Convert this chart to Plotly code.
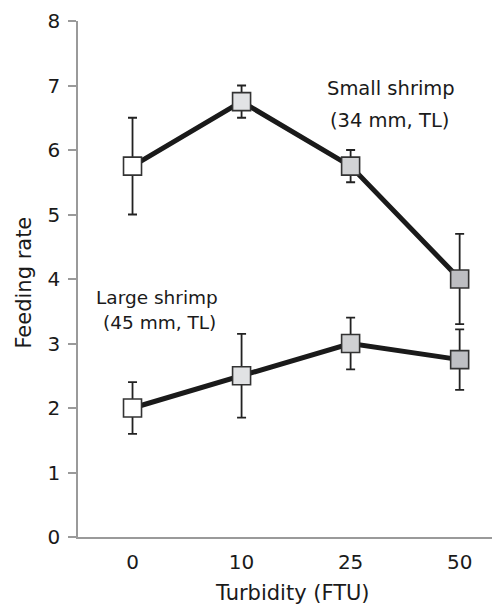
import plotly.graph_objects as go

turbidity = ["0", "10", "25", "50"]
small_mean = [5.75, 6.75, 5.75, 4.0]
small_err = [0.75, 0.25, 0.25, 0.70]
large_mean = [2.0, 2.5, 3.0, 2.75]
large_err = [0.40, 0.65, 0.40, 0.47]
small_fill = ["#ffffff", "#e2e3e5", "#d2d3d5", "#bdbec2"]
large_fill = ["#ffffff", "#e1e2e4", "#cfd0d2", "#bfc0c4"]
y_ticks = [0, 1, 2, 3, 4, 5, 6, 7, 8]

FONT = "DejaVu Sans"

fig = go.Figure()
for mean, err, fill in [(small_mean, small_err, small_fill), (large_mean, large_err, large_fill)]:
    fig.add_trace(go.Scatter(
        x=turbidity, y=mean, mode="lines+markers",
        line=dict(color="#1a1a1a", width=5),
        marker=dict(symbol="square", size=18, color=fill,
                    line=dict(color="#333333", width=1.6)),
        error_y=dict(type="data", array=err, symmetric=True,
                     color="#222222", thickness=1.8, width=4.5),
        cliponaxis=False, showlegend=False,
    ))

annos = [
    ("Small shrimp", 2.37, 6.95, 19.5),
    ("(34 mm, TL)", 2.36, 6.46, 19.5),
    ("Large shrimp", 0.22, 3.72, 18.5),
    ("(45 mm, TL)", 0.25, 3.33, 18.5),
]
for text, ax, ay, fs in annos:
    fig.add_annotation(x=ax, y=ay, xref="x", yref="y", text=text, showarrow=False,
                       xanchor="center", yanchor="middle",
                       font=dict(family=FONT, size=fs, color="#1a1a1a"))

fig.add_annotation(x=0, y=0.493, xref="paper", yref="paper", text="Feeding rate",
                   textangle=-90, showarrow=False, xanchor="center", yanchor="middle",
                   xshift=-54,
                   font=dict(family=FONT, size=21, color="#1a1a1a"))
fig.add_annotation(x=0.508, y=0, xref="paper", yref="paper", text="Turbidity (FTU)",
                   showarrow=False, xanchor="center", yanchor="middle",
                   yshift=-56,
                   font=dict(family=FONT, size=21, color="#1a1a1a"))

fig.update_layout(
    width=492, height=597,
    margin=dict(l=70, r=0, t=13, b=68),
    plot_bgcolor="white", paper_bgcolor="white",
    font=dict(family=FONT, color="#1a1a1a"),
    xaxis=dict(type="category", range=[-0.5, 3.37], showline=True,
               linecolor="#9a9a9a", linewidth=1.6, ticks="", showgrid=False,
               zeroline=False, tickfont=dict(family=FONT, size=20, color="#1a1a1a"),
               ticklabelstandoff=6),
    yaxis=dict(range=[0, 8], tickvals=y_ticks, showline=True,
               linecolor="#9a9a9a", linewidth=1.6, ticks="outside", ticklen=8,
               tickwidth=1.6, tickcolor="#9a9a9a", showgrid=False, zeroline=False,
               tickfont=dict(family=FONT, size=20, color="#1a1a1a"),
               ticklabelstandoff=4),
)

fig.write_html("out.html")
